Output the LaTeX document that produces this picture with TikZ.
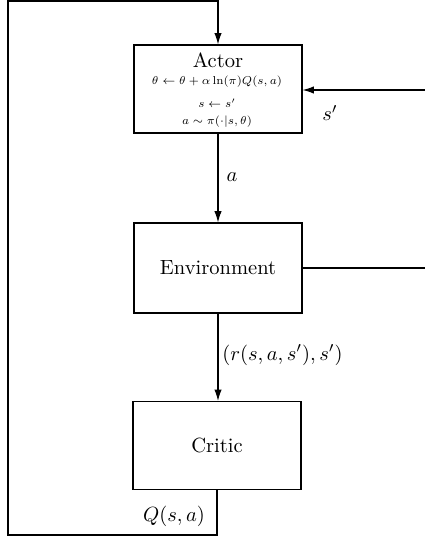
\documentclass[tikz,border=0pt]{standalone}
\usetikzlibrary{arrows.meta}
\newcommand{\smallmath}[1]{\scalebox{0.8}{\scriptsize$#1$}}
\begin{document}
\begin{tikzpicture}[x=0.487pt,y=-0.487pt, line width=0.55pt,
  box/.style={draw, minimum width=81.8pt, minimum height=42.9pt, inner sep=0pt},
  flow/.style={-{Latex[length=5.5pt,width=3.6pt]}},
  lbl/.style={inner sep=0pt},
  small/.style={inner sep=0pt, anchor=base}]
\useasboundingbox (0,0) rectangle (424,539);
\node[box] (actor) at (218,89) {};
\node[inner sep=0pt, anchor=base] (atitle) at (218,68) {Actor};
\node[small] (af1) at (217,84.5) {\smallmath{\theta\leftarrow\theta+\alpha\ln(\pi)Q(s,a)}};
\node[small] (af2) at (217,108) {\smallmath{s\leftarrow s'}};
\node[small] (af3) at (217,125) {\smallmath{a\sim\pi(\cdot|s,\theta)}};
\node[box, minimum height=43.8pt] (env) at (218,268) {Environment};
\node[box] (critic) at (217,445.5) {Critic};
\coordinate (bl) at (8,535);
\coordinate (tl) at (8,1);
\coordinate (rb) at (426,268);
\coordinate (rt) at (426,90);
\draw[flow] (actor.south) -- (env.north);
\draw[flow] (env.south) -- (env.south |- critic.north);
\draw[flow] (critic.south) |- (bl) -- (tl) -| (actor.north);
\draw[flow] (env.east) -- (rb) -- (rt) -- (actor.east |- rt);
\node[lbl] (la) at (232,177) {$a$};
\node[lbl] (ls) at (330,113) {$s'$};
\node[lbl] (lr) at (282.5,355) {$(r(s,a,s'),s')$};
\node[lbl] (lq) at (174,516) {$Q(s,a)$};
\end{tikzpicture}
\end{document}
